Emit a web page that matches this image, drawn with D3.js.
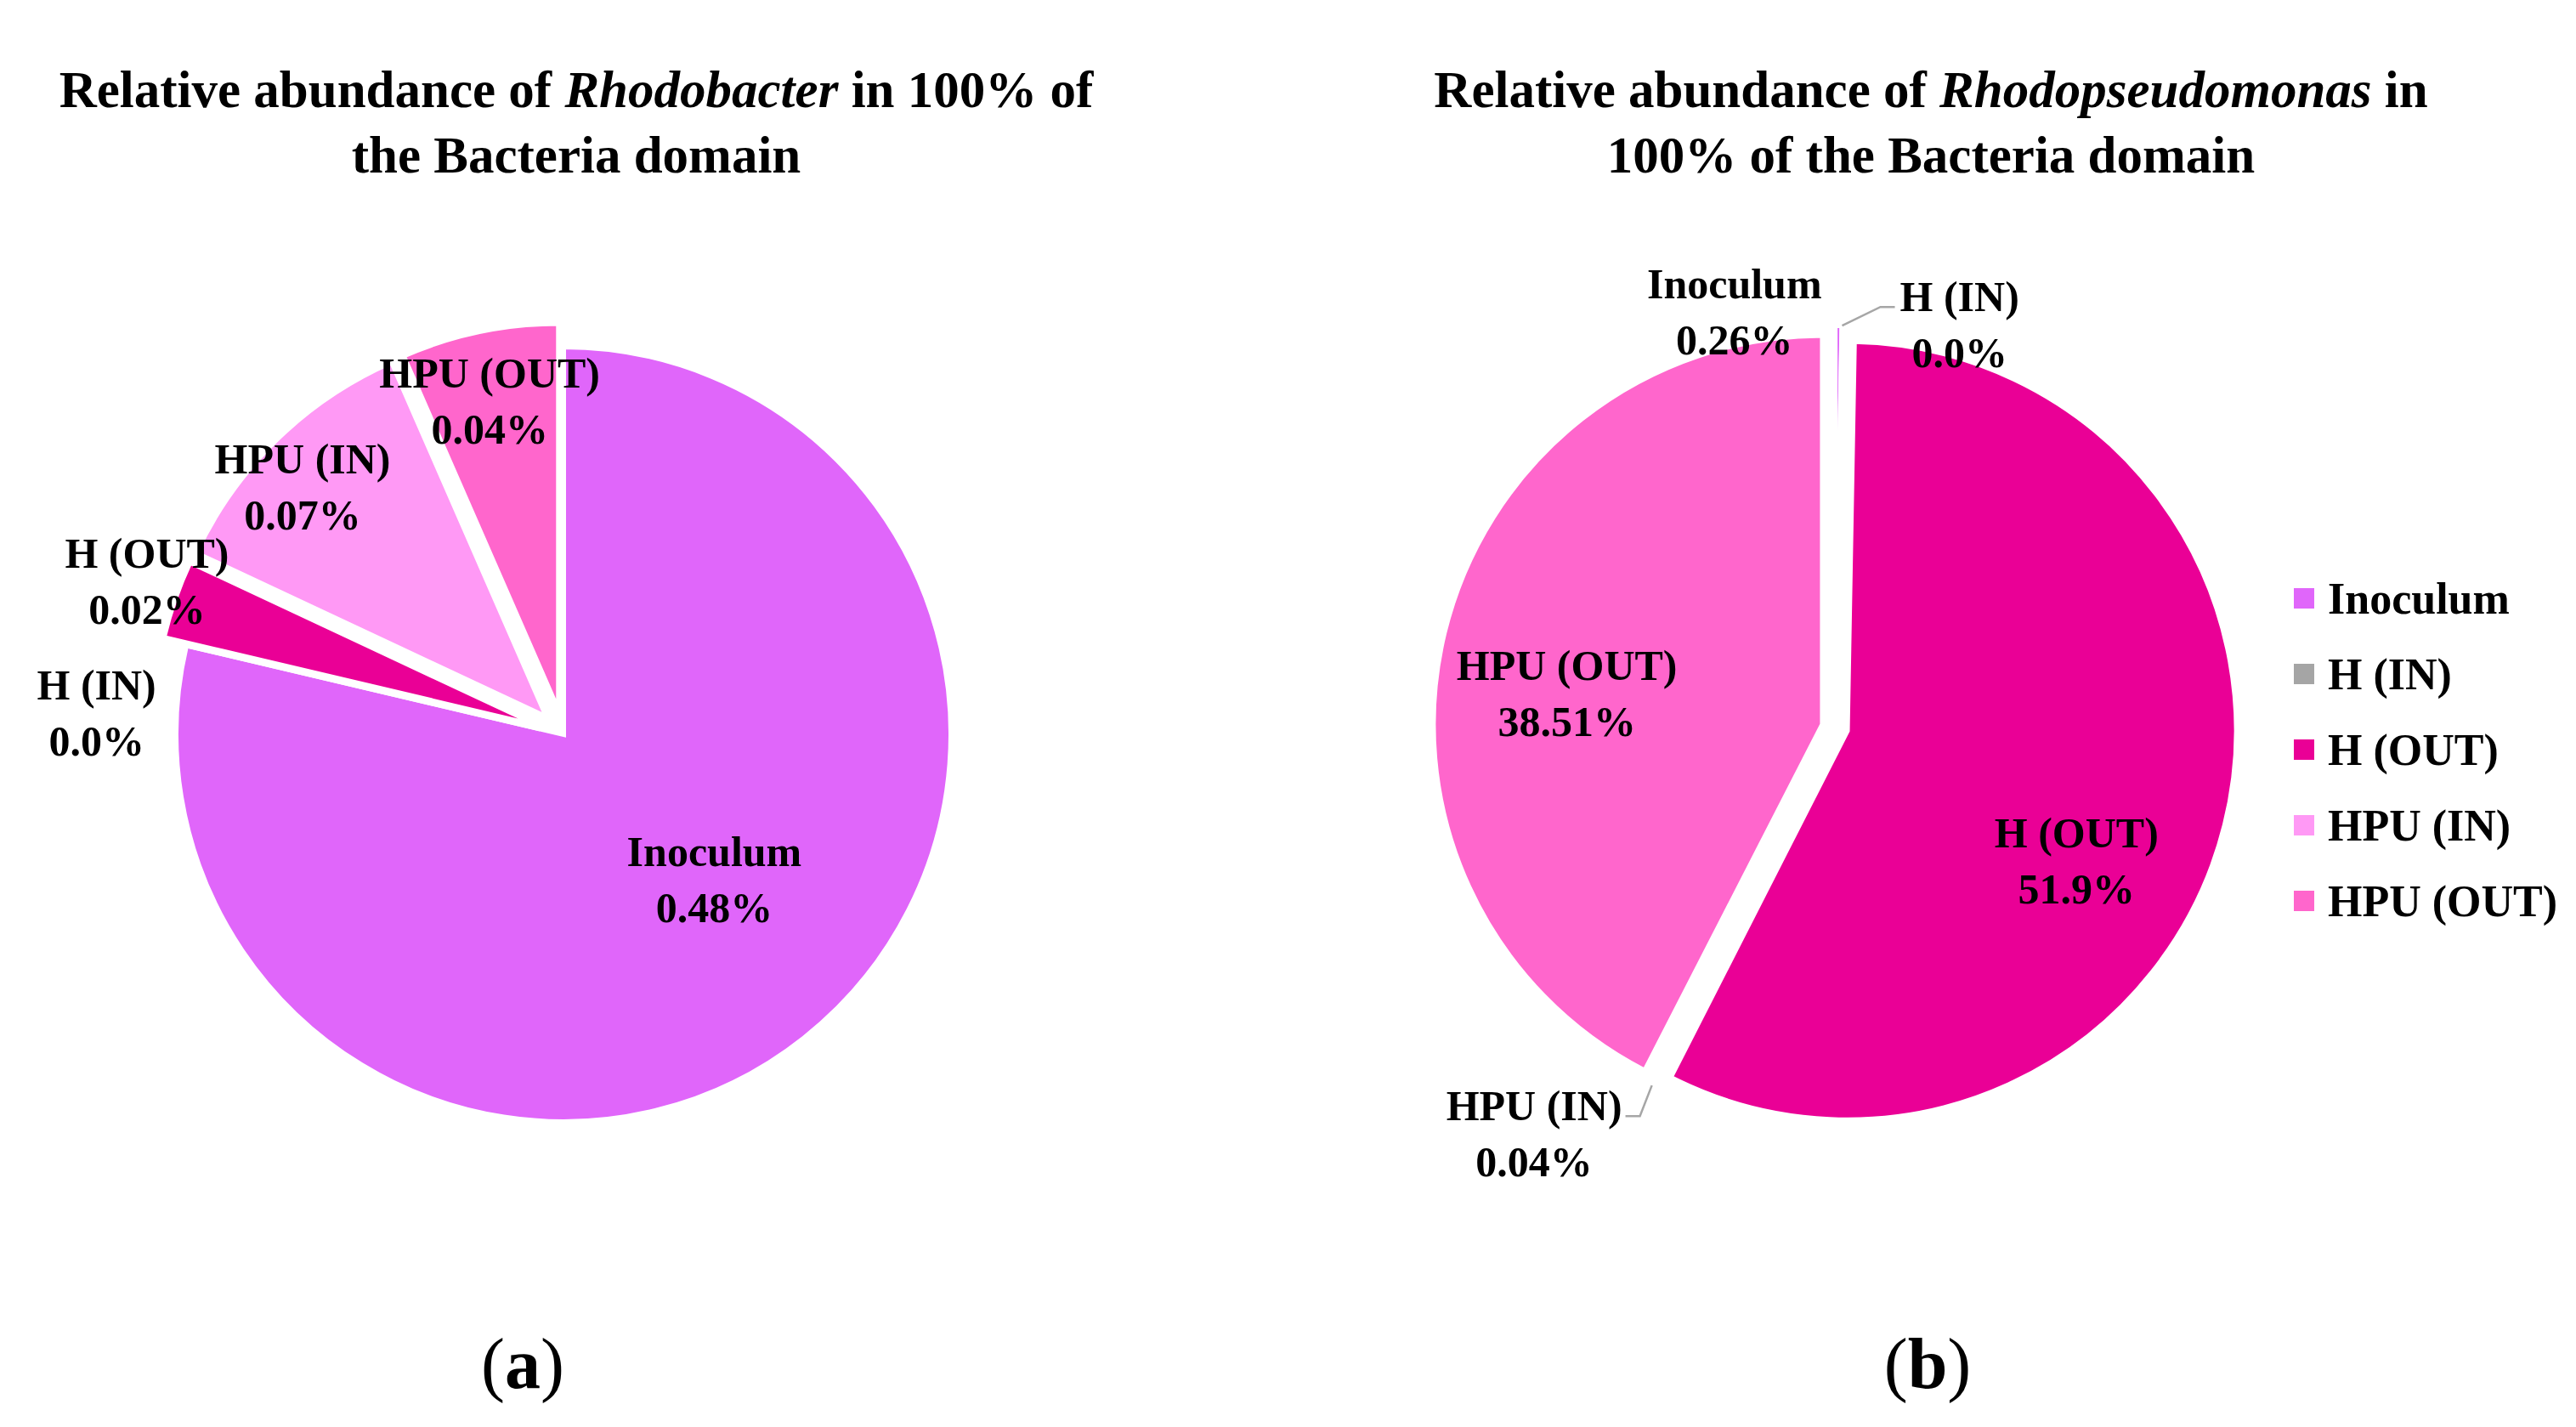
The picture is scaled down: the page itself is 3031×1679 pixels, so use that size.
<!DOCTYPE html>
<html>
<head>
<meta charset="utf-8">
<script src="https://cdn.jsdelivr.net/npm/d3@7"></script>
<style>
  html, body { margin: 0; padding: 0; background: #ffffff; }
  svg { display: block; }
  text { font-family: "Liberation Serif", "Times New Roman", serif; fill: #000; }
</style>
</head>
<body>
<svg id="chart" width="3031" height="1679"></svg>
<script>
// ---------------- data ----------------
const categories = ["Inoculum", "H (IN)", "H (OUT)", "HPU (IN)", "HPU (OUT)"];
const rhodobacterValues = [0.48, 0.0, 0.02, 0.07, 0.04];
const rhodobacterLabels = ["0.48%", "0.0%", "0.02%", "0.07%", "0.04%"];
const rhodopseudomonasValues = [0.26, 0.0, 51.9, 0.04, 38.51];
const rhodopseudomonasLabels = ["0.26%", "0.0%", "51.9%", "0.04%", "38.51%"];
const sliceColors = ["#E066FA", "#A5A5A5", "#EA0096", "#FF99F5", "#FF66CC"];

// ---------------- layout / style ----------------
const W = 3031, H = 1679;
const svg = d3.select("#chart");
svg.append("rect").attr("width", W).attr("height", H).attr("fill", "#fff");

// label placement: [angle in degrees clockwise from 12 o'clock, radius factor]
const leftLabelPlacement = [[133.9, 0.54], [272.6, 1.206], [290.2, 1.145], [313.5, 0.928], [347.5, 0.88]];
const rightLabelPlacement = [[346.4, 1.098], [17.2, 1.083], [118.9, 0.709], [216.5, 1.299], [277.2, 0.694]];

const panels = [
  {
    cx: 663, cy: 864, r: 456,
    values: rhodobacterValues, labels: rhodobacterLabels,
    explode: [0, 28, 28, 28, 28],
    placement: leftLabelPlacement,
    leaders: [],
    titleX: 678,
    title1: [["Relative abundance of ", "normal"], ["Rhodobacter", "italic"], [" in 100% of", "normal"]],
    title2: "the Bacteria domain",
    letter: "a", letterX: 615
  },
  {
    cx: 2159, cy: 856, r: 458,
    values: rhodopseudomonasValues, labels: rhodopseudomonasLabels,
    explode: [15, 15, 15, 15, 15],
    placement: rightLabelPlacement,
    leaders: [1, 3],
    titleX: 2272,
    title1: [["Relative abundance of ", "normal"], ["Rhodopseudomonas", "italic"], [" in", "normal"]],
    title2: "100% of the Bacteria domain",
    letter: "b", letterX: 2268
  }
];

const pie = d3.pie().sort(null).value(d => d).startAngle(0).endAngle(2 * Math.PI);
const labelFont = 50;
const lineGap = 33;

panels.forEach(p => {
  const g = svg.append("g").attr("transform", `translate(${p.cx},${p.cy})`);
  const arcs = pie(p.values);
  const arc = d3.arc().innerRadius(0).outerRadius(p.r);

  // slices
  g.selectAll("path.slice")
    .data(arcs)
    .join("path")
    .attr("class", "slice")
    .attr("d", arc)
    .attr("fill", (d, i) => sliceColors[i])
    .attr("stroke", "#fff")
    .attr("stroke-width", 6)
    .attr("stroke-linejoin", "miter")
    .attr("transform", (d, i) => {
      const a = (d.startAngle + d.endAngle) / 2;
      const e = p.explode[i];
      return `translate(${e * Math.sin(a)},${-e * Math.cos(a)})`;
    });

  // data labels
  const labelG = g.selectAll("g.lbl")
    .data(arcs)
    .join("g")
    .attr("class", "lbl")
    .attr("transform", (d, i) => {
      const [deg, k] = p.placement[i];
      const a = deg * Math.PI / 180;
      const c = d3.arc().innerRadius(k * p.r).outerRadius(k * p.r).startAngle(a).endAngle(a).centroid();
      return `translate(${c[0]},${c[1]})`;
    });
  labelG.append("text")
    .attr("class", "nm")
    .attr("text-anchor", "middle")
    .attr("dominant-baseline", "central")
    .attr("y", -lineGap)
    .attr("font-size", labelFont)
    .attr("font-weight", "bold")
    .text((d, i) => categories[i]);
  labelG.append("text")
    .attr("text-anchor", "middle")
    .attr("dominant-baseline", "central")
    .attr("y", lineGap)
    .attr("font-size", labelFont)
    .attr("font-weight", "bold")
    .text((d, i) => p.labels[i]);

  // leader lines
  p.leaders.forEach(i => {
    const d = arcs[i];
    const a = (d.startAngle + d.endAngle) / 2;
    const rr = p.r + p.explode[i];
    const sx = rr * Math.sin(a), sy = -rr * Math.cos(a);
    const [deg, k] = p.placement[i];
    const la = deg * Math.PI / 180;
    const lc = d3.arc().innerRadius(k * p.r).outerRadius(k * p.r).startAngle(la).endAngle(la).centroid();
    const nameNode = labelG.filter((dd, j) => j === i).select("text.nm").node();
    const bw = nameNode.getComputedTextLength();
    const ly = lc[1] - lineGap + 12;
    let ex, elx;
    if (sx < lc[0]) { ex = lc[0] - bw / 2 - 6; elx = ex - 17; }
    else { ex = lc[0] + bw / 2 + 4; elx = ex + 17; }
    g.append("path")
      .attr("d", d3.line()([[ex, ly], [elx, ly], [sx, sy]]))
      .attr("fill", "none")
      .attr("stroke", "#A6A6A6")
      .attr("stroke-width", 2.5);
  });

  // titles
  const t1 = svg.append("text")
    .attr("x", p.titleX).attr("y", 126)
    .attr("text-anchor", "middle")
    .attr("font-size", 61)
    .attr("font-weight", "bold");
  p.title1.forEach(([s, st]) => t1.append("tspan").attr("font-style", st).text(s));
  svg.append("text")
    .attr("x", p.titleX).attr("y", 203)
    .attr("text-anchor", "middle")
    .attr("font-size", 61)
    .attr("font-weight", "bold")
    .text(p.title2);

  // panel letter
  const lt = svg.append("text")
    .attr("x", p.letterX).attr("y", 1633)
    .attr("text-anchor", "middle")
    .attr("font-size", 84);
  lt.append("tspan").text("(");
  lt.append("tspan").attr("font-weight", "bold").text(p.letter);
  lt.append("tspan").text(")");
});

// legend (right panel)
const legend = svg.append("g").attr("transform", "translate(2699,704)");
const rowStep = 89, sq = 24;
const rows = legend.selectAll("g.row")
  .data(categories)
  .join("g")
  .attr("class", "row")
  .attr("transform", (d, i) => `translate(0,${i * rowStep})`);
rows.append("rect")
  .attr("x", 0).attr("y", -sq / 2)
  .attr("width", sq).attr("height", sq)
  .attr("fill", (d, i) => sliceColors[i]);
rows.append("text")
  .attr("x", 40).attr("y", 0)
  .attr("dominant-baseline", "central")
  .attr("font-size", 52)
  .attr("font-weight", "bold")
  .text(d => d);
</script>
</body>
</html>
